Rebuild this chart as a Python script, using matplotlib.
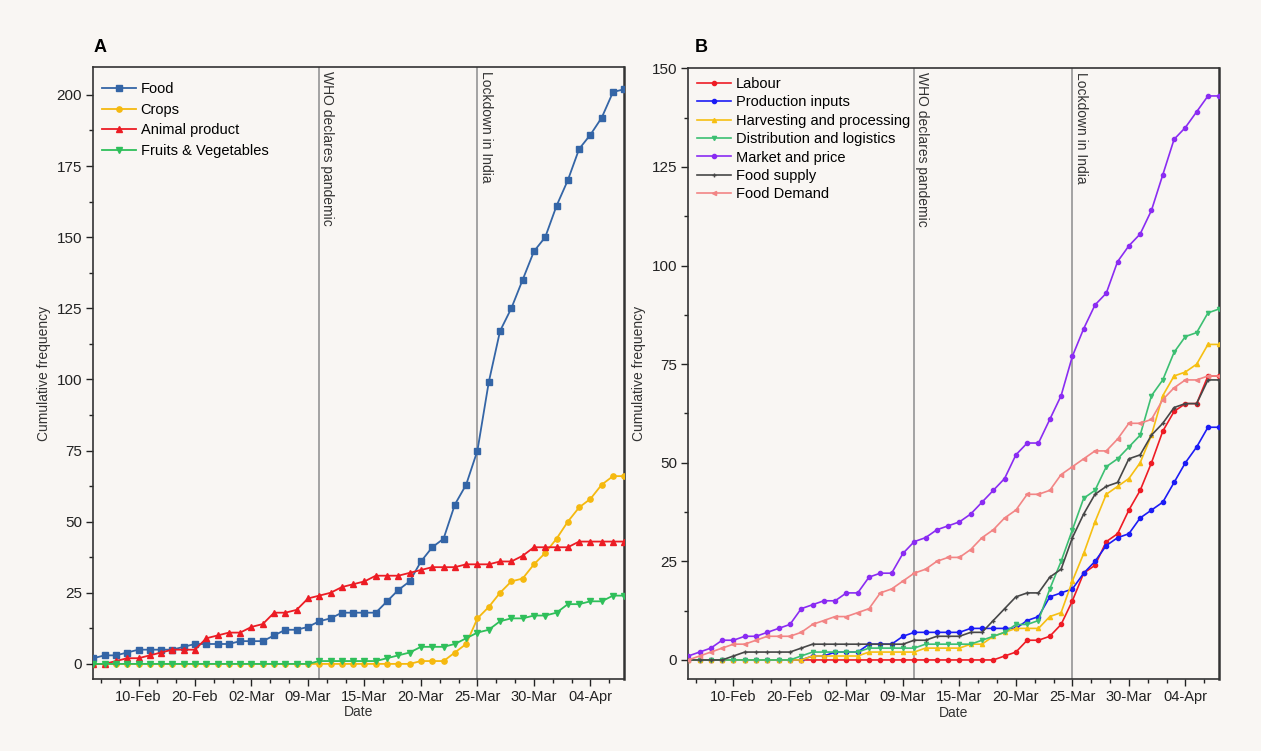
import matplotlib
matplotlib.use("Agg")
import matplotlib.pyplot as plt
from matplotlib.ticker import MultipleLocator, FixedLocator
import numpy as np

plt.rcParams['font.family'] = ['Liberation Sans', 'DejaVu Sans']

# ---------------- data ----------------
n_points = 48
tick_positions = [5, 10, 15, 20, 25, 30, 35, 40, 45]
tick_labels = ['10-Feb', '20-Feb', '02-Mar', '09-Mar', '15-Mar', '20-Mar',
               '25-Mar', '30-Mar', '04-Apr']
who_pos = 21
lockdown_pos = 35

# Panel A
food = [2, 3, 3, 4, 5, 5, 5, 5, 6, 7,
        7, 7, 7, 8, 8, 8, 10, 12, 12, 13,
        15, 16, 18, 18, 18, 18, 22, 26, 29, 36,
        41, 44, 56, 63, 75, 99, 117, 125, 135, 145,
        150, 161, 170, 181, 186, 192, 201, 202]
crops = [0] * 29 + [1, 1, 1, 4, 7, 16, 20, 25, 29, 30, 35, 39, 44, 50, 55, 58, 63, 66, 66]
animal = [0, 0, 1, 2, 2, 3, 4, 5, 5, 5,
          9, 10, 11, 11, 13, 14, 18, 18, 19, 23,
          24, 25, 27, 28, 29, 31, 31, 31, 32, 33,
          34, 34, 34, 35, 35, 35, 36, 36, 38, 41,
          41, 41, 41, 43, 43, 43, 43, 43]
fruits = [0] * 20 + [1, 1, 1, 1, 1, 1, 2, 3, 4, 6, 6, 6, 7, 9, 11, 12, 15, 16, 16, 17,
                     17, 18, 21, 21, 22, 22, 24, 24]

# Panel B
labour = [0] * 28 + [1, 2, 5, 5, 6, 9, 15, 22, 24, 30, 32, 38, 43, 50, 58, 63, 65, 65, 72, 72]
production = [0, 0, 0, 0, 0, 0, 0, 0, 0, 0,
              0, 1, 1, 2, 2, 2, 4, 4, 4, 6,
              7, 7, 7, 7, 7, 8, 8, 8, 8, 8,
              10, 11, 16, 17, 18, 22, 25, 29, 31, 32,
              36, 38, 40, 45, 50, 54, 59, 59]
harvesting = [0, 0, 0, 0, 0, 0, 0, 0, 0, 0,
              0, 1, 1, 1, 1, 1, 2, 2, 2, 2,
              2, 3, 3, 3, 3, 4, 4, 6, 7, 8,
              8, 8, 11, 12, 20, 27, 35, 42, 44, 46,
              50, 57, 67, 72, 73, 75, 80, 80]
distribution = [0, 0, 0, 0, 0, 0, 0, 0, 0, 0,
                1, 2, 2, 2, 2, 2, 3, 3, 3, 3,
                3, 4, 4, 4, 4, 4, 5, 6, 7, 9,
                9, 10, 18, 25, 33, 41, 43, 49, 51, 54,
                57, 67, 71, 78, 82, 83, 88, 89]
market = [1, 2, 3, 5, 5, 6, 6, 7, 8, 9,
          13, 14, 15, 15, 17, 17, 21, 22, 22, 27,
          30, 31, 33, 34, 35, 37, 40, 43, 46, 52,
          55, 55, 61, 67, 77, 84, 90, 93, 101, 105,
          108, 114, 123, 132, 135, 139, 143, 143]
food_supply = [0, 0, 0, 0, 1, 2, 2, 2, 2, 2,
               3, 4, 4, 4, 4, 4, 4, 4, 4, 4,
               5, 5, 6, 6, 6, 7, 7, 10, 13, 16,
               17, 17, 21, 23, 31, 37, 42, 44, 45, 51,
               52, 57, 60, 64, 65, 65, 71, 71]
food_demand = [0, 1, 2, 3, 4, 4, 5, 6, 6, 6,
               7, 9, 10, 11, 11, 12, 13, 17, 18, 20,
               22, 23, 25, 26, 26, 28, 31, 33, 36, 38,
               42, 42, 43, 47, 49, 51, 53, 53, 56, 60,
               60, 61, 66, 69, 71, 71, 72, 72]

x = np.arange(1, n_points + 1)

# ---------------- figure ----------------
bg = '#f9f6f3'
fig = plt.figure(figsize=(12.61, 7.51), dpi=100, facecolor=bg)

axA = fig.add_axes([0.0740, 0.0959, 0.4211, 0.8145])
axB = fig.add_axes([0.5458, 0.0955, 0.4211, 0.8135])

for ax in (axA, axB):
    ax.set_facecolor(bg)

seriesA = [
    ('Food', food, '#3465a6', 's', 3.8),
    ('Crops', crops, '#f5b90f', 'o', 3.8),
    ('Animal product', animal, '#ec1c24', '^', 4.3),
    ('Fruits & Vegetables', fruits, '#2fbf5a', 'v', 4.3),
]
for name, vals, col, mk, ms in seriesA:
    axA.plot(x, vals, color=col, marker=mk, markersize=ms, linewidth=1.3,
             label=name, zorder=3)

seriesB = [
    ('Labour', labour, '#ee1c25', 'o', 3.0),
    ('Production inputs', production, '#1c1cf5', 'o', 3.0),
    ('Harvesting and processing', harvesting, '#f6bf12', '^', 3.0),
    ('Distribution and logistics', distribution, '#3cbf72', 'v', 3.0),
    ('Market and price', market, '#8a2cf2', 'o', 3.0),
    ('Food supply', food_supply, '#474747', '+', 3.5),
    ('Food Demand', food_demand, '#f28585', '<', 3.0),
]
for name, vals, col, mk, ms in seriesB:
    axB.plot(x, vals, color=col, marker=mk, markersize=ms, linewidth=1.2,
             label=name, zorder=3)

for ax, ylim, ymaj in ((axA, (-5.3, 209.7), 25), (axB, (-4.9, 150), 25)):
    ax.set_xlim(1, n_points)
    ax.set_ylim(*ylim)
    ax.xaxis.set_major_locator(FixedLocator(tick_positions))
    ax.set_xticklabels(tick_labels)
    ax.xaxis.set_minor_locator(MultipleLocator(5 / 3))
    ax.yaxis.set_major_locator(MultipleLocator(ymaj))
    ax.yaxis.set_minor_locator(MultipleLocator(ymaj / 2))
    ax.tick_params(axis='both', which='major', direction='out', length=5,
                   width=1, labelsize=10, colors='#222222', pad=3)
    ax.tick_params(axis='both', which='minor', direction='out', length=3,
                   width=1, colors='#222222')
    ax.tick_params(axis='x', which='major', labelsize=10.5)
    ax.tick_params(axis='y', which='major', labelsize=11)
    for s in ax.spines.values():
        s.set_color('#333333')
        s.set_linewidth(1.2)
    ax.spines['right'].set_linewidth(1.8)
    ax.set_xlabel('Date', fontsize=10, color='#333333', labelpad=1)
    ax.set_ylabel('Cumulative frequency', fontsize=10, color='#333333', labelpad=4)
    for pos, txt in ((who_pos, 'WHO declares pandemic'), (lockdown_pos, 'Lockdown in India')):
        ax.axvline(pos, color='#8c8c8c', linewidth=1.1, zorder=2)
        ax.text(pos + 0.1, ax.get_ylim()[1] - (ax.get_ylim()[1] - ax.get_ylim()[0]) * 0.006,
                txt, rotation=270, ha='left', va='top', fontsize=10, color='#333333',
                zorder=4)

axA.legend(loc='upper left', frameon=False, fontsize=10.5, handlelength=2.3,
           handletextpad=0.35, labelspacing=0.45, borderaxespad=0.3,
           borderpad=0.3, bbox_to_anchor=(0.0, 0.99))
axB.legend(loc='upper left', frameon=False, fontsize=10.5, handlelength=2.3,
           handletextpad=0.35, labelspacing=0.3, borderaxespad=0.3,
           borderpad=0.3, bbox_to_anchor=(0.0, 1.0))

fig.text(0.074, 0.925, 'A', fontsize=13, fontweight='bold', ha='left', va='bottom')
fig.text(0.551, 0.925, 'B', fontsize=13, fontweight='bold', ha='left', va='bottom')

fig.savefig('out.png', dpi=100, facecolor=bg)
